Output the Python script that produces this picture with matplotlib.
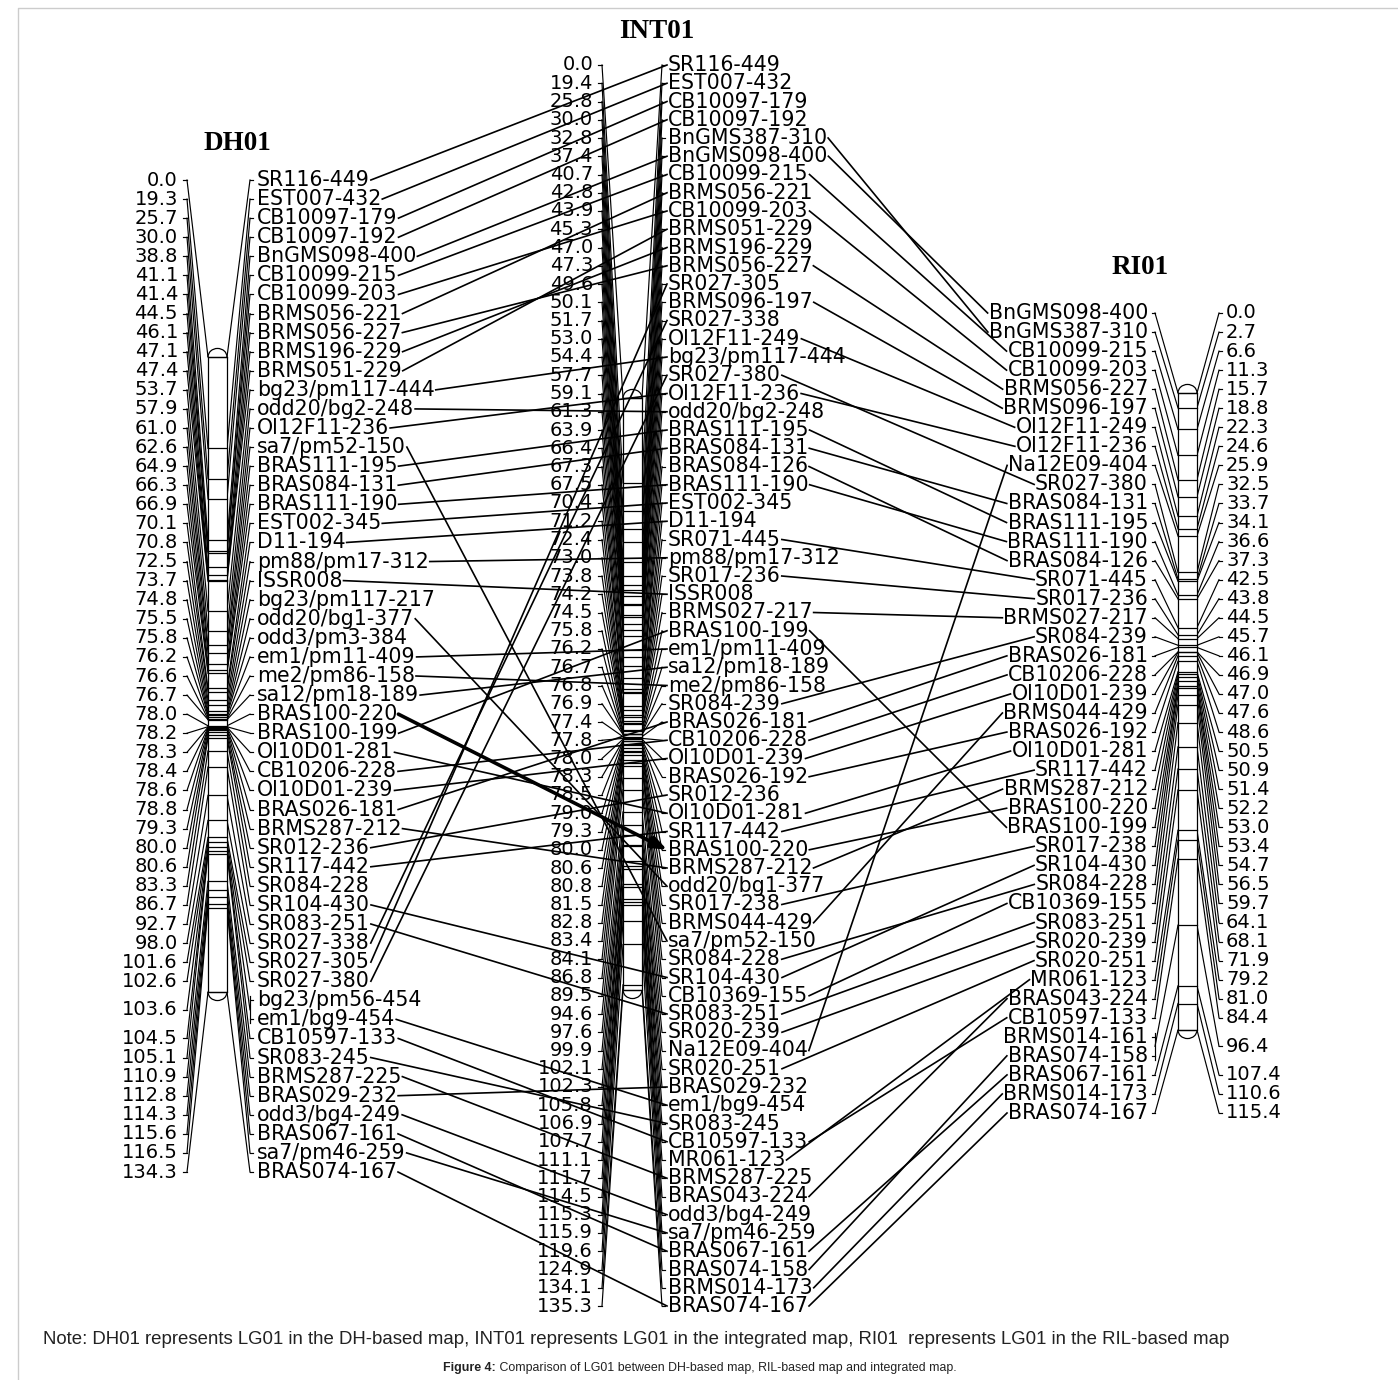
import numpy as np
import matplotlib.pyplot as plt
from matplotlib.patches import Rectangle, Arc

# DH01 linkage group
dh_markers = ['SR116-449', 'EST007-432', 'CB10097-179', 'CB10097-192', 'BnGMS098-400',
              'CB10099-215', 'CB10099-203', 'BRMS056-221', 'BRMS056-227', 'BRMS196-229',
              'BRMS051-229', 'bg23/pm117-444', 'odd20/bg2-248', 'Ol12F11-236', 'sa7/pm52-150',
              'BRAS111-195', 'BRAS084-131', 'BRAS111-190', 'EST002-345', 'D11-194',
              'pm88/pm17-312', 'ISSR008', 'bg23/pm117-217', 'odd20/bg1-377', 'odd3/pm3-384',
              'em1/pm11-409', 'me2/pm86-158', 'sa12/pm18-189', 'BRAS100-220', 'BRAS100-199',
              'Ol10D01-281', 'CB10206-228', 'Ol10D01-239', 'BRAS026-181', 'BRMS287-212',
              'SR012-236', 'SR117-442', 'SR084-228', 'SR104-430', 'SR083-251',
              'SR027-338', 'SR027-305', 'SR027-380', 'bg23/pm56-454', 'em1/bg9-454',
              'CB10597-133', 'SR083-245', 'BRMS287-225', 'BRAS029-232', 'odd3/bg4-249',
              'BRAS067-161', 'sa7/pm46-259', 'BRAS074-167']
dh_pos = [0.0, 19.3, 25.7, 30.0, 38.8, 41.1, 41.4, 44.5, 46.1, 47.1,
          47.4, 53.7, 57.9, 61.0, 62.6, 64.9, 66.3, 66.9, 70.1, 70.8,
          72.5, 73.7, 74.8, 75.5, 75.8, 76.2, 76.6, 76.7, 78.0, 78.2,
          78.3, 78.4, 78.6, 78.8, 79.3, 80.0, 80.6, 83.3, 86.7, 92.7,
          98.0, 101.6, 102.6, 103.6, 103.6, 104.5, 105.1, 110.9, 112.8, 114.3,
          115.6, 116.5, 134.3]

# INT01 (integrated map)
int_markers = ['SR116-449', 'EST007-432', 'CB10097-179', 'CB10097-192', 'BnGMS387-310',
               'BnGMS098-400', 'CB10099-215', 'BRMS056-221', 'CB10099-203', 'BRMS051-229',
               'BRMS196-229', 'BRMS056-227', 'SR027-305', 'BRMS096-197', 'SR027-338',
               'Ol12F11-249', 'bg23/pm117-444', 'SR027-380', 'Ol12F11-236', 'odd20/bg2-248',
               'BRAS111-195', 'BRAS084-131', 'BRAS084-126', 'BRAS111-190', 'EST002-345',
               'D11-194', 'SR071-445', 'pm88/pm17-312', 'SR017-236', 'ISSR008',
               'BRMS027-217', 'BRAS100-199', 'em1/pm11-409', 'sa12/pm18-189', 'me2/pm86-158',
               'SR084-239', 'BRAS026-181', 'CB10206-228', 'Ol10D01-239', 'BRAS026-192',
               'SR012-236', 'Ol10D01-281', 'SR117-442', 'BRAS100-220', 'BRMS287-212',
               'odd20/bg1-377', 'SR017-238', 'BRMS044-429', 'sa7/pm52-150', 'SR084-228',
               'SR104-430', 'CB10369-155', 'SR083-251', 'SR020-239', 'Na12E09-404',
               'SR020-251', 'BRAS029-232', 'em1/bg9-454', 'SR083-245', 'CB10597-133',
               'MR061-123', 'BRMS287-225', 'BRAS043-224', 'odd3/bg4-249', 'sa7/pm46-259',
               'BRAS067-161', 'BRAS074-158', 'BRMS014-173', 'BRAS074-167']
int_pos = [0.0, 19.4, 25.8, 30.0, 32.8, 37.4, 40.7, 42.8, 43.9, 45.3,
           47.0, 47.3, 49.6, 50.1, 51.7, 53.0, 54.4, 57.7, 59.1, 61.3,
           63.9, 66.4, 67.3, 67.5, 70.4, 71.2, 72.4, 73.0, 73.8, 74.2,
           74.5, 75.8, 76.2, 76.7, 76.8, 76.9, 77.4, 77.8, 78.0, 78.3,
           78.5, 79.0, 79.3, 80.0, 80.6, 80.8, 81.5, 82.8, 83.4, 84.1,
           86.8, 89.5, 94.6, 97.6, 99.9, 102.1, 102.3, 105.8, 106.9, 107.7,
           111.1, 111.7, 114.5, 115.3, 115.9, 119.6, 124.9, 134.1, 135.3]

# RI01 linkage group
ri_markers = ['BnGMS098-400', 'BnGMS387-310', 'CB10099-215', 'CB10099-203', 'BRMS056-227',
              'BRMS096-197', 'Ol12F11-249', 'Ol12F11-236', 'Na12E09-404', 'SR027-380',
              'BRAS084-131', 'BRAS111-195', 'BRAS111-190', 'BRAS084-126', 'SR071-445',
              'SR017-236', 'BRMS027-217', 'SR084-239', 'BRAS026-181', 'CB10206-228',
              'Ol10D01-239', 'BRMS044-429', 'BRAS026-192', 'Ol10D01-281', 'SR117-442',
              'BRMS287-212', 'BRAS100-220', 'BRAS100-199', 'SR017-238', 'SR104-430',
              'SR084-228', 'CB10369-155', 'SR083-251', 'SR020-239', 'SR020-251',
              'MR061-123', 'BRAS043-224', 'CB10597-133', 'BRMS014-161', 'BRAS074-158',
              'BRAS067-161', 'BRMS014-173', 'BRAS074-167']
ri_pos = [0.0, 2.7, 6.6, 11.3, 15.7, 18.8, 22.3, 24.6, 25.9, 32.5,
          33.7, 34.1, 36.6, 37.3, 42.5, 43.8, 44.5, 45.7, 46.1, 46.9,
          47.0, 47.6, 48.6, 50.5, 50.9, 51.4, 52.2, 53.0, 53.4, 54.7,
          56.5, 59.7, 64.1, 68.1, 71.9, 79.2, 81.0, 84.4, 96.4, 96.4,
          107.4, 110.6, 115.4]

dh_int_skip = ['SR084-228']     # no connector drawn in the original
bold_link = 'BRAS100-220'       # drawn heavy with an arrow head

FS_MK = 14.8
FS_POS = 14
LW_FAN = 0.85
LW_LINK = 1.2

fig = plt.figure(figsize=(13.98, 13.80), dpi=100)
ax = fig.add_axes([0, 0, 1, 1])
ax.set_xlim(0, 1398)
ax.set_ylim(1380, 0)
ax.axis('off')

# light frame
ax.plot([18, 18, 1398], [1380, 8, 8], color='#cccccc', lw=1)


def draw_map(markers, pos, lay):
    n = len(markers)
    rows = lay['row0'] + lay['step'] * np.arange(n)
    top, bot = lay['top'], lay['bot']
    scale = (bot - top) / max(pos)
    bx0, bx1 = lay['bar']
    groups = []
    for i, p in enumerate(pos):
        if groups and groups[-1][0] == p:
            groups[-1][1].append(i)
        else:
            groups.append((p, [i]))
    texts = {}
    for side in ('left', 'right'):
        s = lay[side]
        edge = bx0 if side == 'left' else bx1
        ha = 'right' if side == 'left' else 'left'
        for p, idx in groups:
            yb = top + p * scale
            ym = rows[idx].mean()
            ax.plot([s['inner'], edge], [ym, yb], color='k', lw=LW_FAN, zorder=2)
            if s['kind'] == 'pos':
                ax.plot([s['outer'], s['inner']], [ym, ym], color='k', lw=LW_FAN, zorder=2)
                ax.text(s['text'], ym, f'{p:.1f}', ha=ha, va='center', fontsize=FS_POS)
            else:
                if len(idx) > 1:
                    ax.plot([s['inner']] * 2, [rows[idx[0]] - 4, rows[idx[-1]] + 4],
                            color='k', lw=LW_FAN, zorder=2)
                for i in idx:
                    ax.plot([s['outer'], s['inner']], [rows[i]] * 2, color='k', lw=LW_FAN, zorder=2)
                    texts[markers[i]] = ax.text(s['text'], rows[i], markers[i], ha=ha,
                                                va='center', fontsize=FS_MK)
    # chromosome bar
    w = bx1 - bx0
    ax.add_patch(Rectangle((bx0, top), w, bot - top, fc='white', ec='k', lw=0.9, zorder=3))
    ax.add_patch(Arc(((bx0 + bx1) / 2, top), w, w * 0.9, theta1=180, theta2=360,
                     color='k', lw=0.9, zorder=3))
    ax.add_patch(Arc(((bx0 + bx1) / 2, bot), w, w * 0.9, theta1=0, theta2=180,
                     color='k', lw=0.9, zorder=3))
    for p, idx in groups:
        yb = top + p * scale
        ax.plot([bx0, bx1], [yb, yb], color='k', lw=0.9, zorder=4)
    ax.text(lay['title'][0], lay['title'][1], lay['name'], ha='center', va='center',
            fontsize=19.5, fontweight='bold', family='Liberation Serif')
    return dict(zip(markers, rows)), texts


dh_lay = dict(name='DH01', title=(237, 143), row0=180, step=(1172 - 180) / 52,
              top=357, bot=992, bar=(208, 227),
              left=dict(kind='pos', text=178, outer=183, inner=187),
              right=dict(kind='mk', text=257, outer=253, inner=250))
int_lay = dict(name='INT01', title=(657, 31), row0=65, step=(1306 - 65) / 68,
               top=398, bot=990, bar=(623, 642),
               left=dict(kind='pos', text=593, outer=598, inner=602),
               right=dict(kind='mk', text=668, outer=665, inner=662))
ri_lay = dict(name='RI01', title=(1140, 267), row0=313, step=(1113 - 313) / 42,
              top=393, bot=1030, bar=(1178, 1197),
              left=dict(kind='mk', text=1148, outer=1152, inner=1155),
              right=dict(kind='pos', text=1226, outer=1222, inner=1219))

dh_rows, dh_txt = draw_map(dh_markers, dh_pos, dh_lay)
int_rows, int_txt = draw_map(int_markers, int_pos, int_lay)
ri_rows, ri_txt = draw_map(ri_markers, ri_pos, ri_lay)

renderer = fig.canvas.get_renderer()
inv = ax.transData.inverted()


def xspan(t):
    bb = t.get_window_extent(renderer)
    (x0, _), (x1, _) = inv.transform([[bb.x0, bb.y0], [bb.x1, bb.y1]])
    return x0, x1


for m in dh_markers:
    if m not in int_rows or m in dh_int_skip:
        continue
    xa = xspan(dh_txt[m])[1] + 1
    xb = xspan(int_txt[m])[0] - 1
    if m == bold_link:
        ax.annotate('', xy=(xb, int_rows[m]), xytext=(xa, dh_rows[m]),
                    arrowprops=dict(arrowstyle='-|>,head_length=0.9,head_width=0.35',
                                    lw=2.6, color='k', shrinkA=0, shrinkB=0), zorder=5)
    else:
        ax.plot([xa, xb], [dh_rows[m], int_rows[m]], color='k', lw=LW_LINK, zorder=5)

for m in int_markers:
    if m not in ri_rows:
        continue
    xa = xspan(int_txt[m])[1] + 1
    xb = xspan(ri_txt[m])[0] - 1
    ax.plot([xa, xb], [int_rows[m], ri_rows[m]], color='k', lw=LW_LINK, zorder=5)

# footer
ax.text(43, 1340, 'Note: DH01 represents LG01 in the DH-based map, INT01 represents LG01 in the '
        'integrated map, RI01  represents LG01 in the RIL-based map',
        ha='left', va='center', fontsize=13.4, family=['Liberation Sans Narrow', 'Liberation Sans'],
        color='#222222')
t1 = ax.text(0, 1368, 'Figure 4:', ha='left', va='center', fontsize=8.9, fontweight='bold',
             family='Liberation Sans', color='#222222')
t2 = ax.text(0, 1368, ' Comparison of LG01 between DH-based map, RIL-based map and integrated map.',
             ha='left', va='center', fontsize=8.9, family='Liberation Sans', color='#222222')
w1 = np.diff(xspan(t1))[0]
w2 = np.diff(xspan(t2))[0]
x_start = 700 - (w1 + w2) / 2
t1.set_x(x_start)
t2.set_x(x_start + w1)

fig.savefig('out.png', dpi=100)
